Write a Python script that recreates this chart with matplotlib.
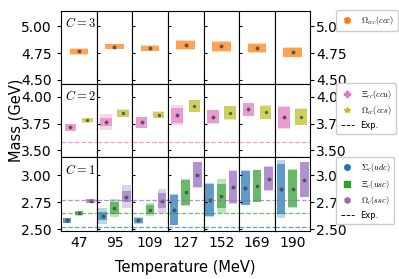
import numpy as np
import matplotlib
matplotlib.use('Agg')
import matplotlib.pyplot as plt
from matplotlib.lines import Line2D

plt.rcParams['mathtext.fontset'] = 'cm'

temps = ['47', '95', '109', '127', '152', '169', '190']

# C = 3
omega_ccc = [4.766, 4.809, 4.794, 4.824, 4.812, 4.796, 4.756]
omega_ccc_in = [0.025, 0.022, 0.025, 0.040, 0.042, 0.040, 0.040]
omega_ccc_out = [0.030, 0.026, 0.028, 0.050, 0.050, 0.046, 0.046]

# C = 2
xi_cc = [3.714, 3.766, 3.760, 3.829, 3.813, 3.882, 3.807]
xi_cc_in = [0.030, 0.037, 0.050, 0.070, 0.062, 0.058, 0.100]
xi_cc_out = [0.032, 0.075, 0.054, 0.089, 0.065, 0.062, 0.104]
omega_cc = [3.779, 3.845, 3.832, 3.913, 3.850, 3.854, 3.813]
omega_cc_in = [0.019, 0.035, 0.028, 0.053, 0.060, 0.063, 0.076]
omega_cc_out = [0.021, 0.037, 0.030, 0.056, 0.063, 0.066, 0.079]

# C = 1
sigma_c = [2.580, 2.623, 2.580, 2.679, 2.768, 2.886, 2.870]
sigma_c_in = [0.019, 0.040, 0.027, 0.140, 0.150, 0.158, 0.230]
sigma_c_out = [0.022, 0.075, 0.035, 0.145, 0.160, 0.165, 0.270]
xi_c = [2.648, 2.697, 2.682, 2.840, 2.808, 2.900, 2.877]
xi_c_in = [0.020, 0.058, 0.045, 0.120, 0.115, 0.146, 0.170]
xi_c_out = [0.022, 0.080, 0.060, 0.125, 0.155, 0.150, 0.180]
omega_c = [2.762, 2.800, 2.762, 3.006, 2.892, 2.969, 2.960]
omega_c_in = [0.016, 0.050, 0.070, 0.115, 0.145, 0.110, 0.160]
omega_c_out = [0.018, 0.105, 0.115, 0.120, 0.155, 0.115, 0.165]

exp_xi_cc = 3.575
exp_sigma_c = 2.518
exp_xi_c = 2.646
exp_omega_c = 2.766

rows = [
    {'C': 3, 'ylim': (4.46, 5.14), 'ticks': [4.50, 4.75, 5.00], 'width': 0.52,
     'series': [(omega_ccc, omega_ccc_in, omega_ccc_out, 'tab:orange', 'X', r'$\Omega_{ccc}(ccc)$', 0.0)],
     'exp': []},
    {'C': 2, 'ylim': (3.435, 4.115), 'ticks': [3.50, 3.75, 4.00], 'width': 0.32,
     'series': [(xi_cc, xi_cc_in, xi_cc_out, 'tab:pink', 'P', r'$\Xi_{cc}(ccu)$', -0.24),
                (omega_cc, omega_cc_in, omega_cc_out, 'tab:olive', '*', r'$\Omega_{cc}(ccs)$', 0.24)],
     'exp': [(exp_xi_cc, 'tab:pink')]},
    {'C': 1, 'ylim': (2.485, 3.165), 'ticks': [2.50, 2.75, 3.00], 'width': 0.24,
     'series': [(sigma_c, sigma_c_in, sigma_c_out, 'tab:blue', 'o', r'$\Sigma_c(udc)$', -0.33),
                (xi_c, xi_c_in, xi_c_out, 'tab:green', 's', r'$\Xi_c(usc)$', 0.0),
                (omega_c, omega_c_in, omega_c_out, 'tab:purple', 'h', r'$\Omega_c(ssc)$', 0.33)],
     'exp': [(exp_sigma_c, 'tab:blue'), (exp_xi_c, 'tab:green'), (exp_omega_c, 'tab:purple')]},
]

fig, axes = plt.subplots(3, 7, figsize=(3.99, 2.79), dpi=100, sharey='row')
fig.subplots_adjust(left=0.153, right=0.778, top=0.9606, bottom=0.173, wspace=0, hspace=0)

for r, row in enumerate(rows):
    for c in range(7):
        ax = axes[r, c]
        for vals, ein, eout, color, marker, label, off in row['series']:
            v, a, b = vals[c], ein[c], eout[c]
            ax.bar(off, 2 * b, bottom=v - b, width=row['width'], color=color, alpha=0.3, lw=0)
            ax.bar(off, 2 * a, bottom=v - a, width=row['width'], color=color, alpha=0.6, lw=0)
            ax.plot(off, v, marker=marker, ms=2, color='#444444', alpha=0.7)
        for e, color in row['exp']:
            ax.axhline(e, ls='--', lw=0.9, color=color, alpha=0.7)
        ax.set_xlim(-0.5, 0.5)
        ax.set_ylim(*row['ylim'])
        ax.set_yticks(row['ticks'])
        if r == 2:
            ax.set_xticks([0])
            ax.set_xticklabels([temps[c]], fontsize=10)
            ax.tick_params(axis='x', length=0, pad=4)
        else:
            ax.set_xticks([])
        if c == 0:
            ax.tick_params(axis='y', labelsize=10, length=3)
            ax.text(0.1, 0.93, r'$C=%d$' % row['C'], transform=ax.transAxes,
                    fontsize=9, va='top', ha='left')
        elif c == 6:
            ax.tick_params(axis='y', left=False, right=True, labelleft=False,
                           labelright=True, labelsize=10, length=3, pad=1)
        else:
            ax.tick_params(axis='y', direction='in', length=2, left=True, right=False)

    handles = []
    for vals, ein, eout, color, marker, label, off in row['series']:
        handles.append(Line2D([], [], ls='none', marker=marker, color=color, ms=4, label=label))
    if row['exp']:
        handles.append(Line2D([], [], ls='--', color='black', lw=0.7, label='Exp.'))
    top = axes[r, 6].get_position().y1
    fig.legend(handles=handles, loc='upper left', bbox_to_anchor=(0.843, top + 0.003),
               fontsize=6, handlelength=1.6, borderpad=0.5, labelspacing=0.45,
               handletextpad=0.8, borderaxespad=0, framealpha=1)

fig.text(0.465, 0.04, 'Temperature (MeV)', ha='center', va='center', fontsize=10.5)
fig.text(0.04, 0.567, 'Mass (GeV)', ha='center', va='center', rotation=90, fontsize=10.5)

fig.savefig('out.png', dpi=100)
